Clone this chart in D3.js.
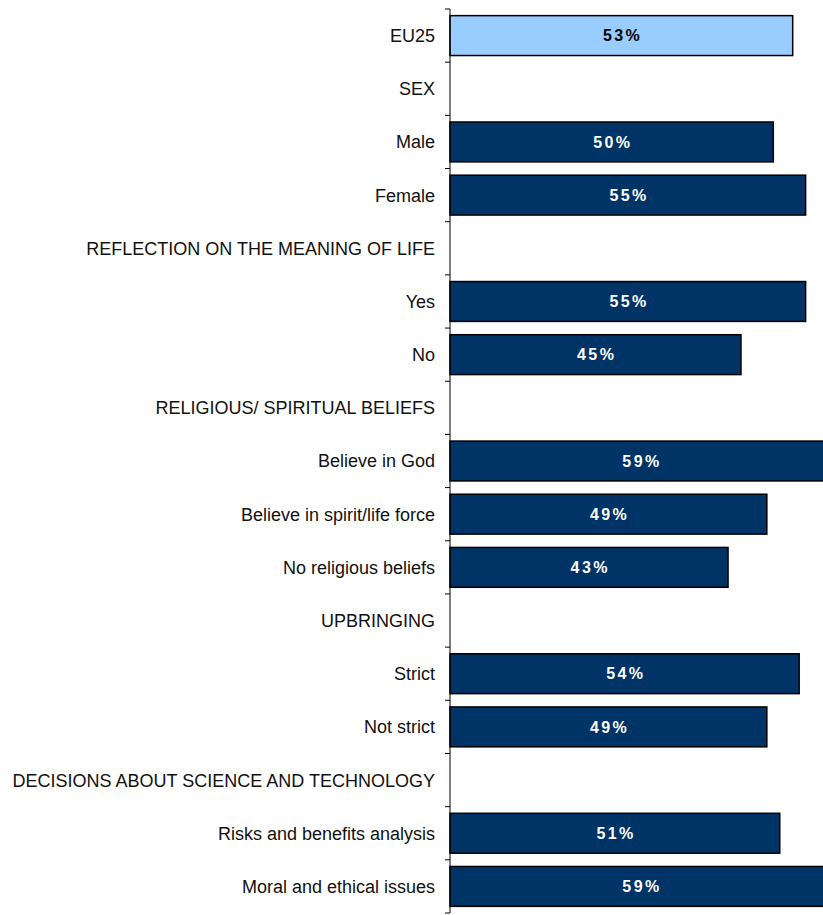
<!DOCTYPE html>
<html>
<head>
<meta charset="utf-8">
<script src="https://cdn.jsdelivr.net/npm/d3@7"></script>
<style>
  html, body { margin: 0; padding: 0; background: #fff; }
  svg { display: block; }
</style>
</head>
<body>
<div id="chart"></div>
<script>
// Row labels, top to bottom; section headings carry no value
const categories = [
  "EU25",
  "SEX",
  "Male",
  "Female",
  "REFLECTION ON THE MEANING OF LIFE",
  "Yes",
  "No",
  "RELIGIOUS/ SPIRITUAL BELIEFS",
  "Believe in God",
  "Believe in spirit/life force",
  "No religious beliefs",
  "UPBRINGING",
  "Strict",
  "Not strict",
  "DECISIONS ABOUT SCIENCE AND TECHNOLOGY",
  "Risks and benefits analysis",
  "Moral and ethical issues"
];
// Share in percent (null = heading row)
const values = [53, null, 50, 55, null, 55, 45, null, 59, 49, 43, null, 54, 49, null, 51, 59];
// Which rows are the overall EU figure
const highlight = ["EU25"];

const W = 823, H = 915;
const axisX = 450;

const svg = d3.select("#chart").append("svg")
  .attr("width", W).attr("height", H);

const y = d3.scaleBand()
  .domain(categories)
  .range([9, 913])
  .paddingInner(0.25)
  .paddingOuter(0.125);

const x = d3.scaleLinear()
  .domain([0, 100])
  .range([axisX, axisX + 646.6]);

const rows = categories.map((c, i) => ({ cat: c, v: values[i] }));
const barRows = rows.filter(d => d.v !== null);

// Bars
svg.append("g").selectAll("rect")
  .data(barRows)
  .join("rect")
  .attr("x", x(0))
  .attr("y", d => y(d.cat))
  .attr("width", d => x(d.v) - x(0))
  .attr("height", y.bandwidth())
  .attr("fill", d => highlight.includes(d.cat) ? "#99ccff" : "#003366")
  .attr("stroke", "#000")
  .attr("stroke-width", 1.5);

// Value labels centred in each bar
svg.append("g").selectAll("text")
  .data(barRows)
  .join("text")
  .attr("x", d => (x(0) + x(d.v)) / 2 + 1.2)
  .attr("y", d => y(d.cat) + y.bandwidth() / 2)
  .attr("dy", "0.36em")
  .attr("text-anchor", "middle")
  .attr("font-family", "Liberation Sans, Arial, sans-serif")
  .attr("font-weight", "bold")
  .attr("font-size", 16)
  .attr("letter-spacing", "2.4px")
  .attr("fill", d => highlight.includes(d.cat) ? "#000" : "#fff")
  .text(d => d.v + "%");

// Category axis: vertical line with ticks at band boundaries
const axis = svg.append("g");
const step = y.step();
const y0 = y.range()[0];
axis.append("line")
  .attr("x1", axisX).attr("x2", axisX)
  .attr("y1", y0).attr("y2", y.range()[1])
  .attr("stroke", "#000").attr("stroke-width", 1);
axis.selectAll("line.tick")
  .data(d3.range(categories.length + 1))
  .join("line")
  .attr("class", "tick")
  .attr("x1", axisX - 5).attr("x2", axisX)
  .attr("y1", i => y0 + i * step).attr("y2", i => y0 + i * step)
  .attr("stroke", "#000").attr("stroke-width", 1);

// Row labels
axis.selectAll("text")
  .data(categories)
  .join("text")
  .attr("x", axisX - 15)
  .attr("y", d => y(d) + y.bandwidth() / 2)
  .attr("dy", "0.36em")
  .attr("text-anchor", "end")
  .attr("font-family", "Liberation Sans, Arial, sans-serif")
  .attr("font-size", 18)
  .attr("fill", "#111")
  .text(d => d);
</script>
</body>
</html>
